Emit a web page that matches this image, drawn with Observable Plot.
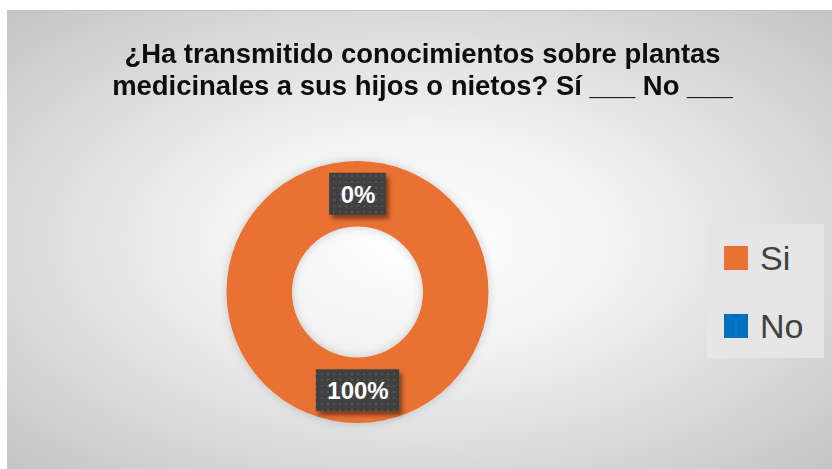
<!DOCTYPE html>
<html>
<head>
<meta charset="utf-8">
<script src="https://cdn.jsdelivr.net/npm/d3@7"></script>
<script src="https://cdn.jsdelivr.net/npm/@observablehq/plot@0.6"></script>
<style>
  html, body { margin: 0; padding: 0; background: #fff; }
  #page { position: relative; width: 832px; height: 469px; background: #fff; overflow: hidden; }
  #panel { position: absolute; left: 7px; top: 10px; width: 825px; height: 459px;
    background: radial-gradient(ellipse farthest-corner at 50% 50%, #ffffff 0%, #f2f2f2 35%, #c4c4c4 100%);
    border-top: 1px solid #c2c2c2; box-sizing: border-box; }
  #title { position: absolute; left: 3px; top: 27px; width: 825px; text-align: center;
    font-family: "Liberation Sans", Arial, sans-serif;
    font-weight: bold; font-size: 28px; line-height: 32px; color: #0d0d0d;
    transform: scaleX(0.98); transform-origin: 50% 0; }
  #chart { position: absolute; left: 0; top: 0; }
  #legend { position: absolute; left: 700px; top: 213px; width: 117px; height: 134px; background: #e6e6e6; }
  .row { position: absolute; left: 17px; height: 40px; display: flex; align-items: center; }
  .sw { width: 24px; height: 24px; margin-right: 12px; }
  .lab { font-family: "Liberation Sans", Arial, sans-serif; font-size: 34px; color: #404040; }
</style>
</head>
<body>
<div id="page">
  <div id="panel">
    <div id="chart"></div>
    <div id="title">¿Ha transmitido conocimientos sobre plantas<br>medicinales a sus hijos o nietos? Sí ___ No ___</div>
    <div id="legend"></div>
  </div>
</div>
<script>
// ---- data ----
const categories = ["Si", "No"];
const values = [100, 0];
const labels = ["100%", "0%"];
const colors = ["#E97132", "#0070C0"];

const data = categories.map((c, i) => ({category: c, value: values[i], label: labels[i]}));

const colorScale = Plot.scale({color: {type: "ordinal", domain: categories, range: colors}});

// pie layout starting at 12 o'clock, clockwise
const pie = d3.pie().sort(null).value(d => d.value)(data);
const innerFrac = 0.5;
const labelFrac = (1 + innerFrac) / 2;
const labelData = pie.map(a => {
  const mid = (a.startAngle + a.endAngle) / 2;
  return {label: a.data.label, x: labelFrac * Math.sin(mid), y: labelFrac * Math.cos(mid)};
});

const W = 825, H = 459, cx = 350.5, cy = 281, R = 131;
const labelFont = "bold 24px 'Liberation Sans', Arial, sans-serif";
const ctx = document.createElement("canvas").getContext("2d");
ctx.font = labelFont;

function donut(...args) {
  const scales = args.find(a => a && typeof a.x === "function");
  const sx = scales.x, sy = scales.y;
  const x0 = sx(0), y0 = sy(0);
  const ro = Math.abs(sx(1) - x0);
  const g = d3.create("svg:g");
  const defs = g.append("defs");
  const f1 = defs.append("filter").attr("id", "glow").attr("x", "-20%").attr("y", "-20%").attr("width", "140%").attr("height", "140%");
  f1.append("feDropShadow").attr("dx", 0).attr("dy", 0).attr("stdDeviation", 5).attr("flood-color", "#000").attr("flood-opacity", 0.18);
  const f2 = defs.append("filter").attr("id", "boxshadow").attr("x", "-20%").attr("y", "-20%").attr("width", "150%").attr("height", "160%");
  f2.append("feDropShadow").attr("dx", 3).attr("dy", 4).attr("stdDeviation", 2).attr("flood-color", "#000").attr("flood-opacity", 0.45);
  const pat = defs.append("pattern").attr("id", "dots").attr("width", 6).attr("height", 6).attr("patternUnits", "userSpaceOnUse");
  pat.append("rect").attr("width", 6).attr("height", 6).attr("fill", "#404040");
  pat.append("rect").attr("x", 2).attr("y", 2).attr("width", 2).attr("height", 2).attr("fill", "#525252");

  const arc = d3.arc().innerRadius(ro * innerFrac).outerRadius(ro);
  g.append("g").attr("transform", `translate(${x0},${y0})`).attr("filter", "url(#glow)")
    .selectAll("path").data(pie.filter(a => a.endAngle > a.startAngle)).join("path")
    .attr("d", arc).attr("fill", a => colorScale.apply(a.data.category));

  g.append("g").selectAll("rect").data(labelData).join("rect")
    .attr("x", d => sx(d.x) - (ctx.measureText(d.label).width + 22) / 2)
    .attr("y", d => sy(d.y) - 21)
    .attr("width", d => ctx.measureText(d.label).width + 22)
    .attr("height", 42)
    .attr("fill", "url(#dots)")
    .attr("filter", "url(#boxshadow)");
  return g.node();
}

const chart = Plot.plot({
  width: W, height: H, margin: 0,
  style: {background: "transparent", overflow: "visible"},
  x: {domain: [-1, 1], range: [cx - R, cx + R], axis: null},
  y: {domain: [-1, 1], range: [cy + R, cy - R], axis: null},
  marks: [
    donut,
    Plot.text(labelData, {x: "x", y: "y", text: "label", fill: "#ffffff",
      fontSize: 24, fontWeight: "bold", fontFamily: "'Liberation Sans', Arial, sans-serif", dy: 1})
  ]
});
document.getElementById("chart").appendChild(chart);

// legend
const legend = d3.select("#legend");
categories.forEach((c, i) => {
  const row = legend.append("div").attr("class", "row").style("top", (14 + i * 68) + "px");
  row.append("div").attr("class", "sw").style("background", colorScale.apply(c));
  row.append("div").attr("class", "lab").text(c);
});
</script>
</body>
</html>
